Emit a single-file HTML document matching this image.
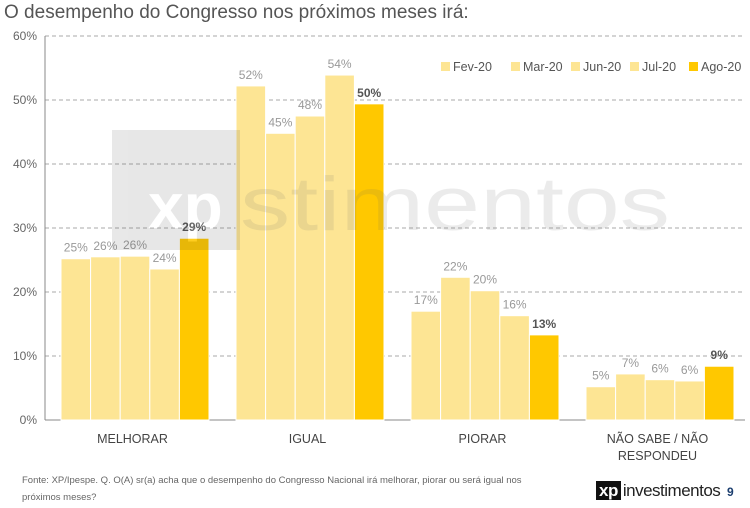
<!DOCTYPE html>
<html><head><meta charset="utf-8"><style>
body{margin:0;width:750px;height:508px;background:#fff;font-family:"Liberation Sans",sans-serif;overflow:hidden;position:relative}
#title{position:absolute;left:4px;top:2px;font-size:19px;color:#555}
#foot{position:absolute;left:22px;top:472px;font-size:9.5px;color:#666;line-height:17px;width:520px}
#logo{position:absolute;left:596px;top:481px;font-size:17px;color:#222;letter-spacing:-0.5px}
#logo span.b{background:#111;color:#fff;font-weight:bold;padding:0 3px;margin-right:2px}
#pg{position:absolute;left:727px;top:485px;font-size:12px;color:#1a3d6e;font-weight:bold}
</style></head><body>
<div id="title">O desempenho do Congresso nos próximos meses irá:</div>
<svg id="chart" width="750" height="470" style="position:absolute;left:0;top:0"></svg>
<div id="foot">Fonte: XP/Ipespe. Q. O(A) sr(a) acha que o desempenho do Congresso Nacional irá melhorar, piorar ou será igual nos próximos meses?</div>
<div id="logo"><span class="b">xp</span>investimentos</div>
<div id="pg">9</div>
<script>
const categories=["MELHORAR","IGUAL","PIORAR","NÃO SABE / NÃO|RESPONDEU"];
const series=["Fev-20","Mar-20","Jun-20","Jul-20","Ago-20"];
const fev=[25.2,52.2,17.0,5.2];
const mar=[25.5,44.8,22.3,7.2];
const jun=[25.6,47.5,20.2,6.3];
const jul=[23.6,53.9,16.3,6.1];
const ago=[28.4,49.4,13.3,8.4];
const labels=[["25%","26%","26%","24%","29%"],["52%","45%","48%","54%","50%"],["17%","22%","20%","16%","13%"],["5%","7%","6%","6%","9%"]];
const ticks=[0,10,20,30,40,50,60];
const data=[fev,mar,jun,jul,ago];
const colors=["#FDE594","#FDE594","#FDE594","#FDE594","#FFC800"];
const NS="http://www.w3.org/2000/svg";
const svg=document.getElementById("chart");
const x0=45,x1=745,y0=420,y60=36;
const y=v=>y0-(v/60)*(y0-y60);
const cw=(x1-x0)/categories.length,bw=29.6,off=16;
function mk(t,a,p){const e=document.createElementNS(NS,t);for(const k in a)e.setAttribute(k,a[k]);(p||svg).appendChild(e);return e;}
ticks.forEach(t=>{
 const l=mk("line",{x1:x0,x2:x1,y1:y(t),y2:y(t),stroke:t?"#aaa":"#888","stroke-dasharray":t?"4,3":"none"});
 
 
 const tx=mk("text",{x:37,y:y(t)+4,"text-anchor":"end","font-size":12,fill:"#666"});
 
 
 tx.textContent=t+"%";
});
mk("line",{x1:x0,x2:x0,y1:y60,y2:y0,stroke:"#888"});
categories.forEach((c,i)=>{
 const gx=x0+i*cw+off;
 data.forEach((s,j)=>{
  const r=mk("rect",{x:gx+j*bw,y:y(s[i]),width:bw,height:y0-y(s[i]),fill:colors[j],stroke:"#fff","stroke-width":1});
  
  
  const t=mk("text",{x:gx+j*bw+bw/2,y:y(s[i])-7,"text-anchor":"middle","font-size":12,fill:j==4?"#555":"#999","font-weight":j==4?"bold":"normal"});
  
  
  t.textContent=labels[i][j];
 });
 c.split("|").forEach((ln,k)=>{
  const t=mk("text",{x:x0+i*cw+cw/2,y:443+k*17,"text-anchor":"middle","font-size":12.5,fill:"#444"});
  
  
  t.textContent=ln;
 });
});
const wg=mk("g",{opacity:0.12});


mk("rect",{x:112,y:130,width:128,height:120,fill:"#444"},wg);
const wx=mk("text",{x:148,y:228,"font-size":64,fill:"#fff","font-weight":"bold"},wg);
wx.textContent="xp";
const wm=mk("text",{x:240,y:230,"font-size":76,fill:"#666",textLength:430,lengthAdjust:"spacingAndGlyphs"},wg);
wm.textContent="stimentos";
const lx=[441,511,571,630,689];
series.forEach((s,j)=>{
 const r=mk("rect",{x:lx[j],y:62,width:9,height:9,fill:colors[j]});
 
 
 const t=mk("text",{x:lx[j]+12,y:71,"font-size":12.5,fill:"#555"});
 
 
 t.textContent=s;
});
</script>
</body></html>
